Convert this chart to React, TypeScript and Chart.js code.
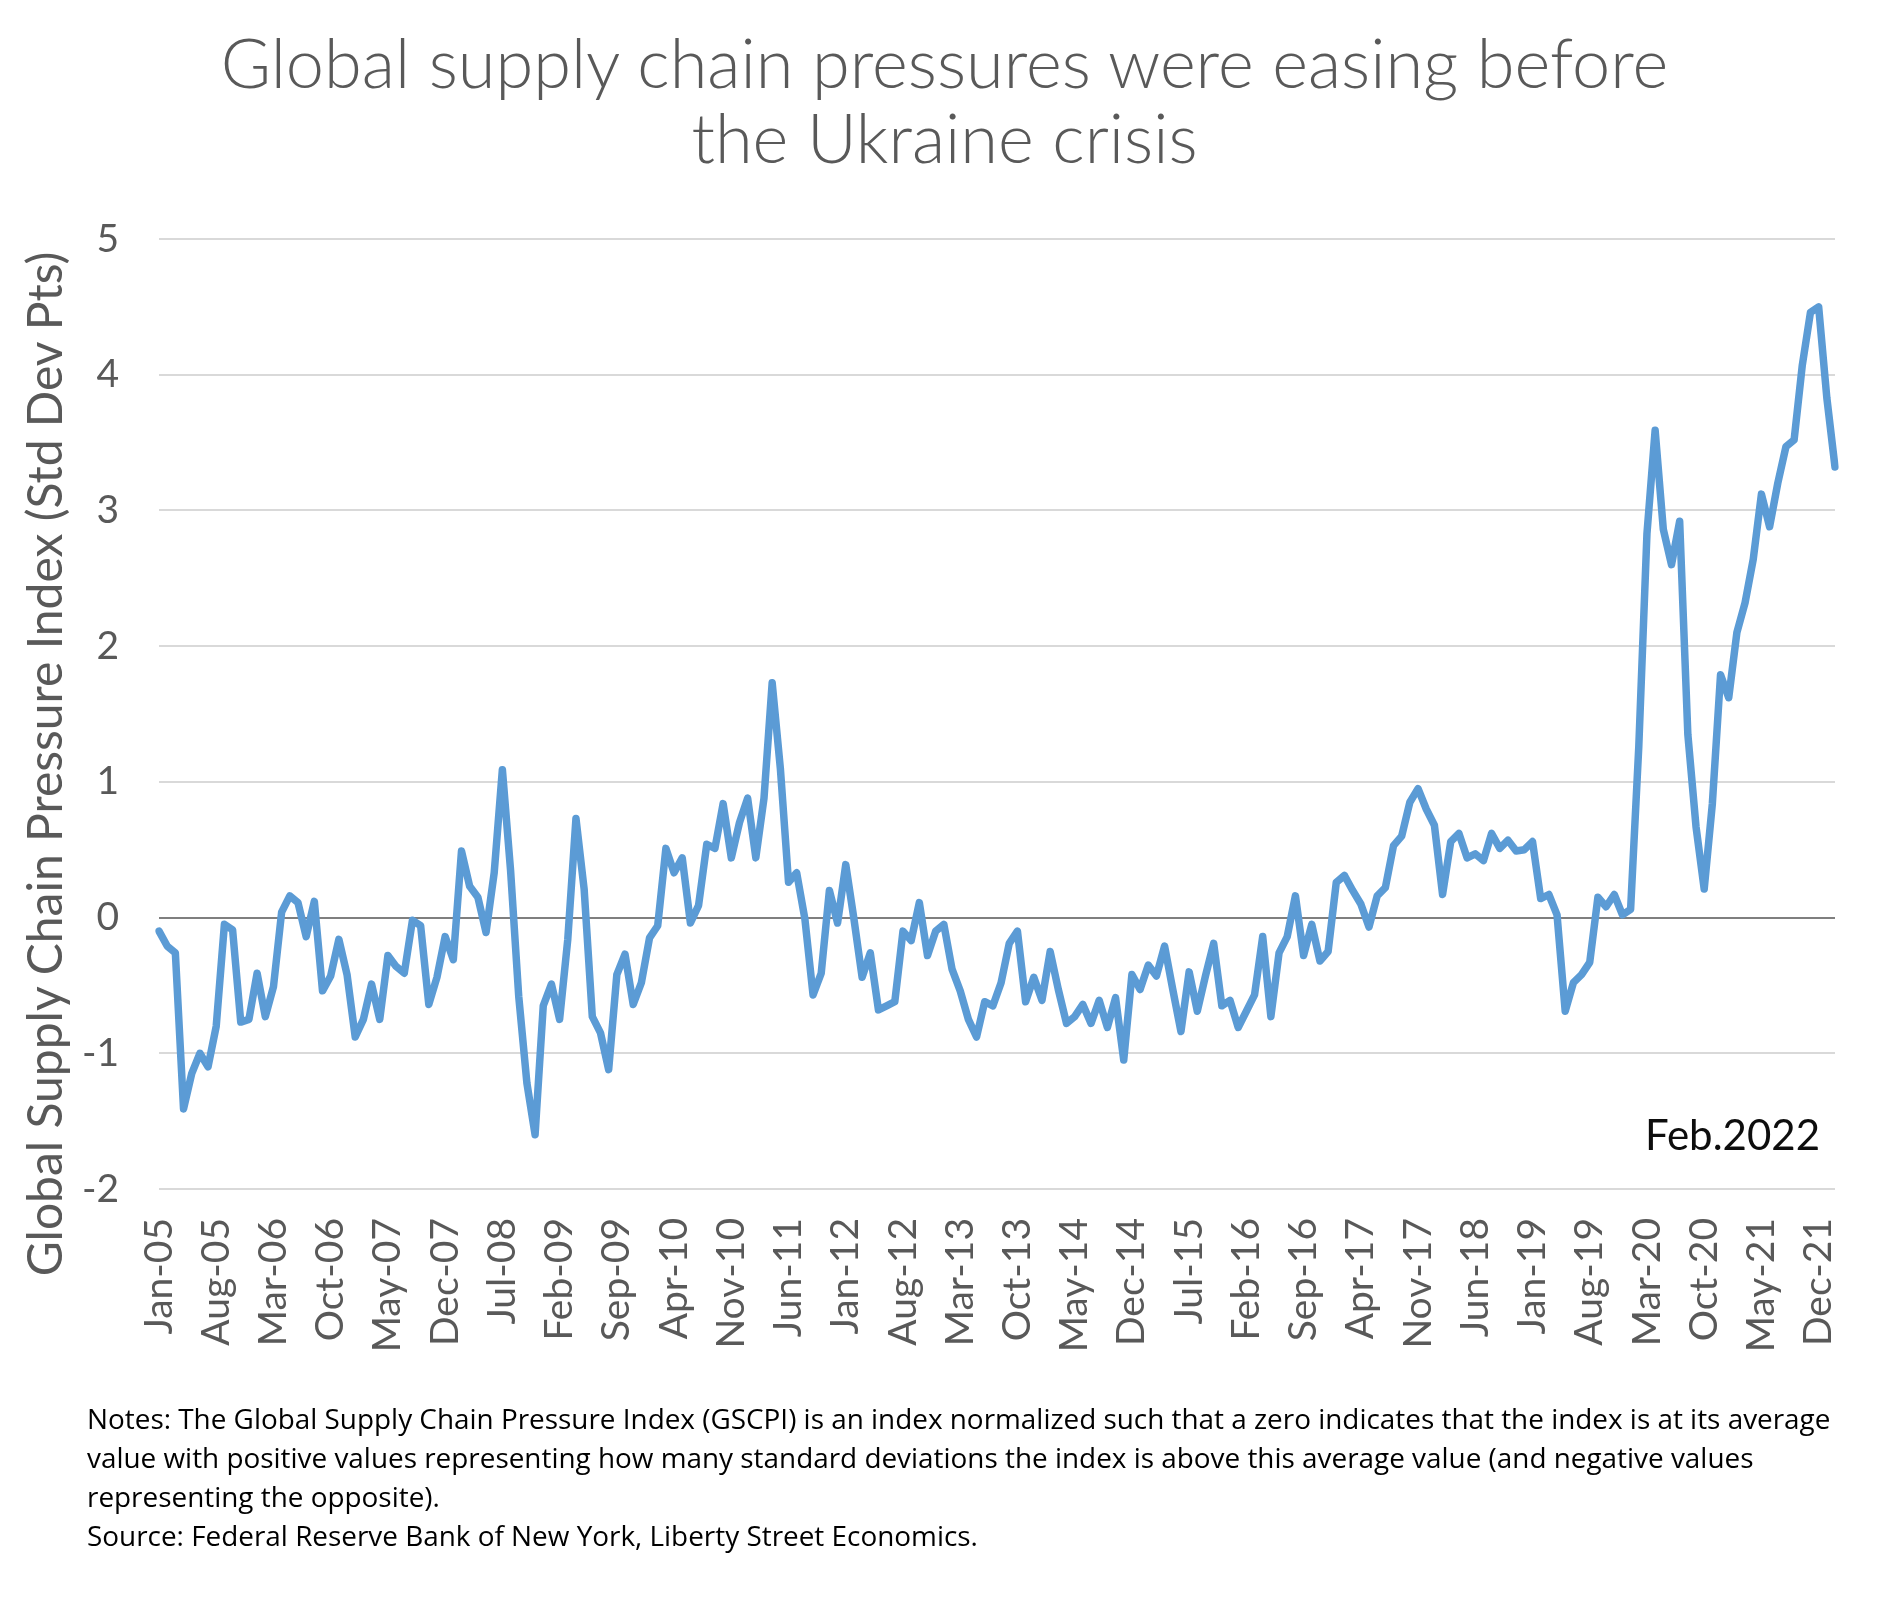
import React, { useEffect, useRef } from 'react';
import { Chart, registerables } from 'chart.js';

Chart.register(...registerables);

// ---- Data ----
const monthNames = ['Jan', 'Feb', 'Mar', 'Apr', 'May', 'Jun', 'Jul', 'Aug', 'Sep', 'Oct', 'Nov', 'Dec'];
const firstYear = 2005;
const lastYear = 2022;
const lastMonthIndex = 1; // Feb-22

const categories: string[] = [];
for (let y = firstYear; y <= lastYear; y++) {
  for (let m = 0; m < 12; m++) {
    if (y === lastYear && m > lastMonthIndex) break;
    categories.push(`${monthNames[m]}-${String(y % 100).padStart(2, '0')}`);
  }
}

// Global Supply Chain Pressure Index, monthly Jan-05 .. Feb-22
const gscpi2005 = [-0.10, -0.21, -0.26, -1.41, -1.15, -1.00, -1.10, -0.80, -0.05, -0.09, -0.77, -0.75];
const gscpi2006 = [-0.41, -0.73, -0.51, 0.04, 0.16, 0.11, -0.14, 0.12, -0.54, -0.43, -0.16, -0.42];
const gscpi2007 = [-0.88, -0.75, -0.49, -0.75, -0.28, -0.36, -0.41, -0.02, -0.06, -0.64, -0.44, -0.14];
const gscpi2008 = [-0.31, 0.49, 0.23, 0.15, -0.11, 0.33, 1.09, 0.35, -0.58, -1.22, -1.60, -0.65];
const gscpi2009 = [-0.49, -0.75, -0.16, 0.73, 0.21, -0.73, -0.85, -1.12, -0.42, -0.27, -0.64, -0.48];
const gscpi2010 = [-0.15, -0.06, 0.51, 0.33, 0.44, -0.04, 0.09, 0.54, 0.51, 0.84, 0.44, 0.70];
const gscpi2011 = [0.88, 0.44, 0.88, 1.73, 1.10, 0.26, 0.33, -0.01, -0.57, -0.41, 0.20, -0.04];
const gscpi2012 = [0.39, -0.01, -0.44, -0.26, -0.68, -0.65, -0.62, -0.10, -0.17, 0.11, -0.28, -0.10];
const gscpi2013 = [-0.05, -0.38, -0.54, -0.75, -0.88, -0.62, -0.65, -0.48, -0.19, -0.10, -0.62, -0.44];
const gscpi2014 = [-0.61, -0.25, -0.53, -0.78, -0.73, -0.64, -0.78, -0.61, -0.81, -0.59, -1.05, -0.42];
const gscpi2015 = [-0.53, -0.35, -0.43, -0.21, -0.53, -0.84, -0.40, -0.69, -0.43, -0.19, -0.65, -0.61];
const gscpi2016 = [-0.81, -0.69, -0.57, -0.14, -0.73, -0.26, -0.14, 0.16, -0.28, -0.05, -0.32, -0.25];
const gscpi2017 = [0.26, 0.31, 0.20, 0.10, -0.07, 0.16, 0.22, 0.53, 0.60, 0.85, 0.95, 0.80];
const gscpi2018 = [0.68, 0.17, 0.56, 0.62, 0.44, 0.47, 0.42, 0.62, 0.51, 0.57, 0.49, 0.50];
const gscpi2019 = [0.56, 0.14, 0.17, 0.02, -0.69, -0.48, -0.42, -0.33, 0.15, 0.08, 0.17, 0.02];
const gscpi2020 = [0.06, 1.26, 2.83, 3.59, 2.86, 2.60, 2.92, 1.35, 0.67, 0.21, 0.84, 1.79];
const gscpi2021 = [1.62, 2.10, 2.32, 2.64, 3.12, 2.88, 3.20, 3.47, 3.52, 4.07, 4.46, 4.50];
const gscpi2022 = [3.83, 3.32];

const gscpi = [
  ...gscpi2005, ...gscpi2006, ...gscpi2007, ...gscpi2008, ...gscpi2009, ...gscpi2010,
  ...gscpi2011, ...gscpi2012, ...gscpi2013, ...gscpi2014, ...gscpi2015, ...gscpi2016,
  ...gscpi2017, ...gscpi2018, ...gscpi2019, ...gscpi2020, ...gscpi2021, ...gscpi2022,
];

const yTicks = [-2, -1, 0, 1, 2, 3, 4, 5];
const tickEvery = 7;

const titleLines = ['Global supply chain pressures were easing before', 'the Ukraine crisis'];
const yAxisTitle = 'Global Supply Chain Pressure Index (Std Dev Pts)';
const dateNote = 'Feb.2022';
const noteLines = [
  'Notes: The Global Supply Chain Pressure Index (GSCPI) is an index normalized such that a zero indicates that the index is at its average',
  'value with positive values representing how many standard deviations the index is above this average value (and negative values',
  'representing the opposite).',
  'Source: Federal Reserve Bank of New York, Liberty Street Economics.',
];

const GREY = '#595959';
const LINE = '#5B9BD5';
const FONT = 'Lato, "Noto Sans", sans-serif';

export default function App() {
  const ref = useRef<HTMLCanvasElement>(null);

  useEffect(() => {
    if (!ref.current) return;
    const chart = new Chart(ref.current, {
      type: 'line',
      data: {
        labels: categories,
        datasets: [
          {
            data: gscpi,
            borderColor: LINE,
            backgroundColor: LINE,
            borderWidth: 7.5,
            pointRadius: 0,
            tension: 0,
            fill: false,
            borderJoinStyle: 'round',
            borderCapStyle: 'round',
          },
        ],
      },
      options: {
        responsive: false,
        maintainAspectRatio: false,
        animation: false,
        layout: { padding: { top: 231, right: 46, bottom: 201, left: 0 } },
        plugins: { legend: { display: false }, tooltip: { enabled: false }, title: { display: false } },
        scales: {
          x: {
            type: 'category',
            offset: false,
            grid: { display: false, drawTicks: false },
            border: { display: false },
            ticks: {
              autoSkip: false,
              minRotation: 90,
              maxRotation: 90,
              padding: 29,
              color: GREY,
              font: { family: FONT, size: 39 },
              callback: (_v: any, i: number) => (i % tickEvery === 0 ? categories[i] : null),
            },
            afterFit: (s: any) => {
              s.height = 200;
              s.paddingLeft = 0;
              s.paddingRight = 0;
            },
          },
          y: {
            min: yTicks[0],
            max: yTicks[yTicks.length - 1],
            afterBuildTicks: (s: any) => {
              s.ticks = yTicks.map((v) => ({ value: v }));
            },
            ticks: {
              padding: 40,
              color: GREY,
              font: { family: FONT, size: 39 },
              callback: (v: any) => String(v),
            },
            grid: {
              drawTicks: false,
              color: (ctx: any) => (ctx.tick && ctx.tick.value === 0 ? '#7f7f7f' : '#d9d9d9'),
              lineWidth: 2,
            },
            border: { display: false },
            afterFit: (s: any) => {
              s.width = 151;
              s.paddingTop = 0;
              s.paddingBottom = 0;
            },
          },
        },
      },
    } as any);
    return () => chart.destroy();
  }, []);

  return (
    <div style={{ position: 'relative', width: 1873, height: 1582 }}>
      <canvas ref={ref} width={1873} height={1582} style={{ position: 'absolute', left: 0, top: 0, width: 1873, height: 1582, display: 'block' }} />
      <div
        style={{
          position: 'absolute',
          left: 0,
          top: 16,
          width: 1873,
          textAlign: 'center',
          fontFamily: FONT,
          fontWeight: 300,
          fontSize: 68.5,
          lineHeight: '75px',
          color: GREY,
        }}
      >
        {titleLines.map((t, i) => (
          <div key={i} style={{ whiteSpace: 'nowrap' }}>{t}</div>
        ))}
      </div>
      <div
        style={{
          position: 'absolute',
          left: 36,
          top: 756,
          width: 1200,
          height: 58,
          marginLeft: -600,
          marginTop: -29,
          textAlign: 'center',
          fontFamily: FONT,
          fontSize: 48,
          lineHeight: '58px',
          color: GREY,
          transform: 'rotate(-90deg)',
          whiteSpace: 'nowrap',
        }}
      >
        {yAxisTitle}
      </div>
      <div
        style={{
          position: 'absolute',
          right: 61,
          top: 1101,
          fontFamily: FONT,
          fontSize: 42,
          lineHeight: '50px',
          color: '#0d0d0d',
          whiteSpace: 'nowrap',
        }}
      >
        {dateNote}
      </div>
      <div
        style={{
          position: 'absolute',
          left: 79,
          top: 1391,
          fontFamily: '"Open Sans", "Noto Sans", sans-serif',
          fontSize: 27.9,
          lineHeight: '39px',
          color: '#000',
        }}
      >
        {noteLines.map((t, i) => (
          <div key={i} style={{ whiteSpace: 'pre' }}>{t}</div>
        ))}
      </div>
    </div>
  );
}
